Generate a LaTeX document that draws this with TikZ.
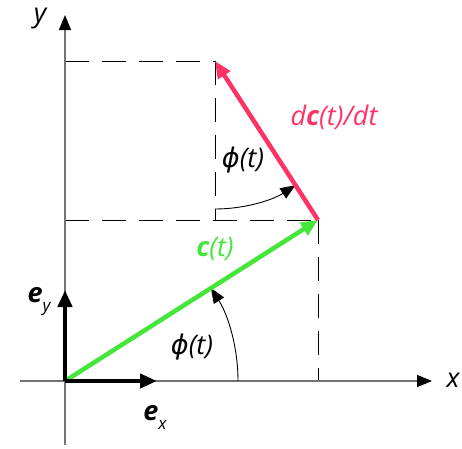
\documentclass[tikz,border=0pt]{standalone}
\usepackage{fontspec}
\setmainfont{Open Sans}
\newfontfamily\greekfont{DejaVu Sans}
\usepackage{tikz}
\usetikzlibrary{arrows.meta,positioning}
\definecolor{vecgreen}{RGB}{68,230,58}
\definecolor{vecred}{RGB}{255,51,102}
\newcommand{\phit}{{\greekfont\itshape ϕ}(t)}

\begin{document}
\begin{tikzpicture}[x=1pt,y=1pt,
axis/.style={draw=black!55,line width=1.3pt,-{Triangle[length=15pt,width=12pt,color=black]}},
vec/.style={line width=4.5pt,-{Triangle[length=17pt,width=14pt]}},
guide/.style={line width=0.9pt,dash pattern=on 24pt off 13pt},
angarc/.style={line width=0.9pt,-{Triangle[length=15pt,width=12pt]}},
lbl/.style={font=\fontsize{27}{32}\selectfont\itshape,inner sep=1pt}]
\useasboundingbox (-65,-67) rectangle (397,381);
% points
\coordinate (o) at (0,0);
\coordinate (c) at (253,161);
\coordinate (d) at (150,320);
\coordinate (xl) at (-45,0);
\coordinate (xr) at (367,0);
\coordinate (yb) at (0,-64);
\coordinate (yt) at (0,366);
\coordinate (ex) at (92,0);
\coordinate (ey) at (0,91);
\coordinate (dy) at (0,320);
\coordinate (cy) at (0,161);
\coordinate (dc) at (150,161);
\coordinate (cx) at (253,0);
\coordinate (a1) at (173,0);
\coordinate (a2) at (150,172);
% guides
\draw[guide] (dy) -- (d); \draw[guide] (cy) -- (c);
\draw[guide] (d) -- (dc); \draw[guide] (c) -- (cx);
% axes
\draw[axis] (xl) -- (xr);
\draw[axis] (yb) -- (yt);
% angles
\draw[angarc] (a1) arc[start angle=0,end angle=32.5,radius=173];
\draw[angarc] (a2) arc[start angle=-90,end angle=-57.1,radius=148];
% vectors
\draw[vec,vecgreen] (o) -- (c);
\draw[vec,vecred] (c) -- (d);
\draw[vec,black] (o) -- (ex);
\draw[vec,black] (o) -- (ey);
% labels
\node[lbl] (ly) at (-25,362) {y};
\node[lbl] (lx) at (388,1) {x};
\node[lbl] (ley) at (-26,79) {\textbf{e}\raisebox{-9pt}{\fontsize{17}{20}\selectfont y}};
\node[lbl] (lex) at (90,-36) {\textbf{e}\raisebox{-9pt}{\fontsize{17}{20}\selectfont x}};
\node[lbl,text=vecgreen] (lc) at (150,132) {\textbf{c}(t)};
\node[lbl] (lphi) at (127,34) {\phit};
\node[lbl,text=vecred] (ldc) at (269,264) {d\textbf{c}(t)/dt};
\node[lbl] (lphi2) at (178,221) {\phit};
\end{tikzpicture}
\end{document}
